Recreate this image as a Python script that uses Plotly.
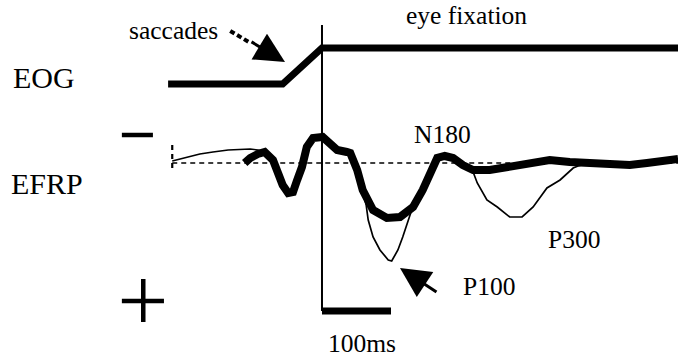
import plotly.graph_objects as go

# ---------------- data ----------------
# time in ms relative to fixation onset; EFRP amplitude in a.u. (positive plotted downward)
eog_time = [-223, -57, 0, 516]
eog_pos = [0, 0, 1, 1]          # normalised eye position (0 = before saccade, 1 = fixation)

efrp_avg_time = [-112, -104, -93, -83, -71, -64, -57, -49, -42, -36,
                 -29, -22, -13, 1, 9, 22, 36, 41, 51, 59,
                 74, 94, 113, 132, 146, 157, 167, 178, 190, 204,
                 219, 243, 272, 301, 330, 359, 388, 413, 446, 471,
                 494, 516]
efrp_avg_amp = [0.0, -0.5, -0.9, -1.1, -0.3, 1.0, 2.2, 3.0, 2.9, 1.7,
                0.4, -1.6, -2.5, -2.6, -2.0, -1.3, -1.1, -1.0, 0.7, 2.7,
                4.7, 5.5, 5.4, 4.4, 2.7, 1.0, -0.5, -0.7, -0.5, 0.2,
                0.7, 0.7, 0.4, 0.0, -0.3, -0.1, 0.0, 0.2, 0.2, 0.0,
                -0.2, -0.4]

efrp_trial_time = [-217, -201, -177, -158, -136, -104, -93, -83,
                   -71, -64, -57, -49, -42, -36, -29, -22, -13, 1, 9, 22, 36, 41, 51, 59,
                   64, 67, 74, 84, 96, 101, 110, 117, 125, 130,
                   146, 157, 167, 178, 190, 204,
                   219, 225, 239, 254, 272, 290, 306, 326, 345, 364, 371,
                   388, 413, 446, 471, 494, 516]
efrp_trial_amp = [-0.2, -0.5, -0.9, -1.1, -1.3, -1.4, -1.3, -1.1,
                  -0.3, 1.0, 2.2, 3.0, 2.9, 1.7, 0.4, -1.6, -2.5, -2.6, -2.0, -1.3, -1.1, -1.0, 0.7, 2.7,
                  4.2, 5.7, 7.4, 8.7, 9.7, 9.8, 8.7, 7.4, 5.7, 4.7,
                  2.7, 1.0, -0.5, -0.7, -0.5, 0.2,
                  0.9, 2.0, 3.7, 4.4, 5.4, 5.4, 4.4, 2.5, 1.7, 0.5, 0.3,
                  0.0, 0.2, 0.2, 0.0, -0.2, -0.4]

baseline_time = [-217, 516]
baseline_amp = [0, 0]
onset_tick_time = [-217, -217]
onset_tick_amp = [-1.8, 0.9]
fixation_line_time = [0, 0]
fixation_line_amp = [-13.8, 14.8]
scalebar_time = [0, 100]
scalebar_amp = [14.8, 14.8]

minus_time = [-290, -245]
minus_amp = [-2.8, -2.8]
plus_h_time = [-290, -229]
plus_h_amp = [13.8, 13.8]
plus_v_time = [-259, -259]
plus_v_amp = [11.6, 15.9]

saccade_tail_time = [-133, -106]
saccade_tail_amp = [-13.2, -12.1]

W, H = 678, 358
FONT = "Liberation Serif"

fig = go.Figure()

def line(x, y, width, dash="solid", yaxis="y"):
    fig.add_trace(go.Scatter(x=x, y=y, mode="lines", yaxis=yaxis, hoverinfo="skip",
                             line=dict(color="black", width=width, dash=dash)))

line(baseline_time, baseline_amp, 1.5, dash="5px,4px")
line(onset_tick_time, onset_tick_amp, 2.2, dash="5px,4px")
line(fixation_line_time, fixation_line_amp, 2)
line(scalebar_time, scalebar_amp, 7)
line(efrp_trial_time, efrp_trial_amp, 1.7)
line(efrp_avg_time, efrp_avg_amp, 8)
line(eog_time, eog_pos, 7, yaxis="y2")
line(minus_time, minus_amp, 4.5)
line(plus_h_time, plus_h_amp, 4.5)
line(plus_v_time, plus_v_amp, 4.5)
line(saccade_tail_time, saccade_tail_amp, 4, dash="5px,3px")

def label(text, px, py, size=25.5):
    fig.add_annotation(text=text, x=px / W, y=1 - py / H, xref="paper", yref="paper",
                       xanchor="left", yanchor="middle", showarrow=False,
                       font=dict(family=FONT, size=size, color="black"))

label("EOG", 11, 78, 30)
label("EFRP", 9, 183, 30)
label("saccades", 127, 31)
label("eye fixation", 404, 16)
label("N180", 412, 134)
label("P300", 546, 239)
label("P100", 461, 286)
label("100ms", 326, 343)

fig.add_annotation(x=-53.6, y=-10.1, xref="x", yref="y", ax=-35, ay=-21,
                   showarrow=True, arrowhead=2, arrowsize=2.0, arrowwidth=3,
                   arrowcolor="black", text="")
fig.add_annotation(x=113, y=10.5, xref="x", yref="y", ax=38, ay=25,
                   showarrow=True, arrowhead=2, arrowsize=2.0, arrowwidth=3,
                   arrowcolor="black", text="")

fig.update_layout(
    width=W, height=H, autosize=False,
    margin=dict(l=0, r=0, t=0, b=0, pad=0),
    paper_bgcolor="white", plot_bgcolor="white",
    showlegend=False,
    xaxis=dict(range=[-466.6, 515.9], visible=False, fixedrange=True),
    yaxis=dict(range=[19.5, -16.3], visible=False, fixedrange=True),
    yaxis2=dict(range=[-7.611, 2.333], overlaying="y", visible=False, fixedrange=True),
)

fig.write_html("out.html", config={"displayModeBar": False},
               post_script="document.body.style.margin='0';document.body.style.overflow='hidden';")
